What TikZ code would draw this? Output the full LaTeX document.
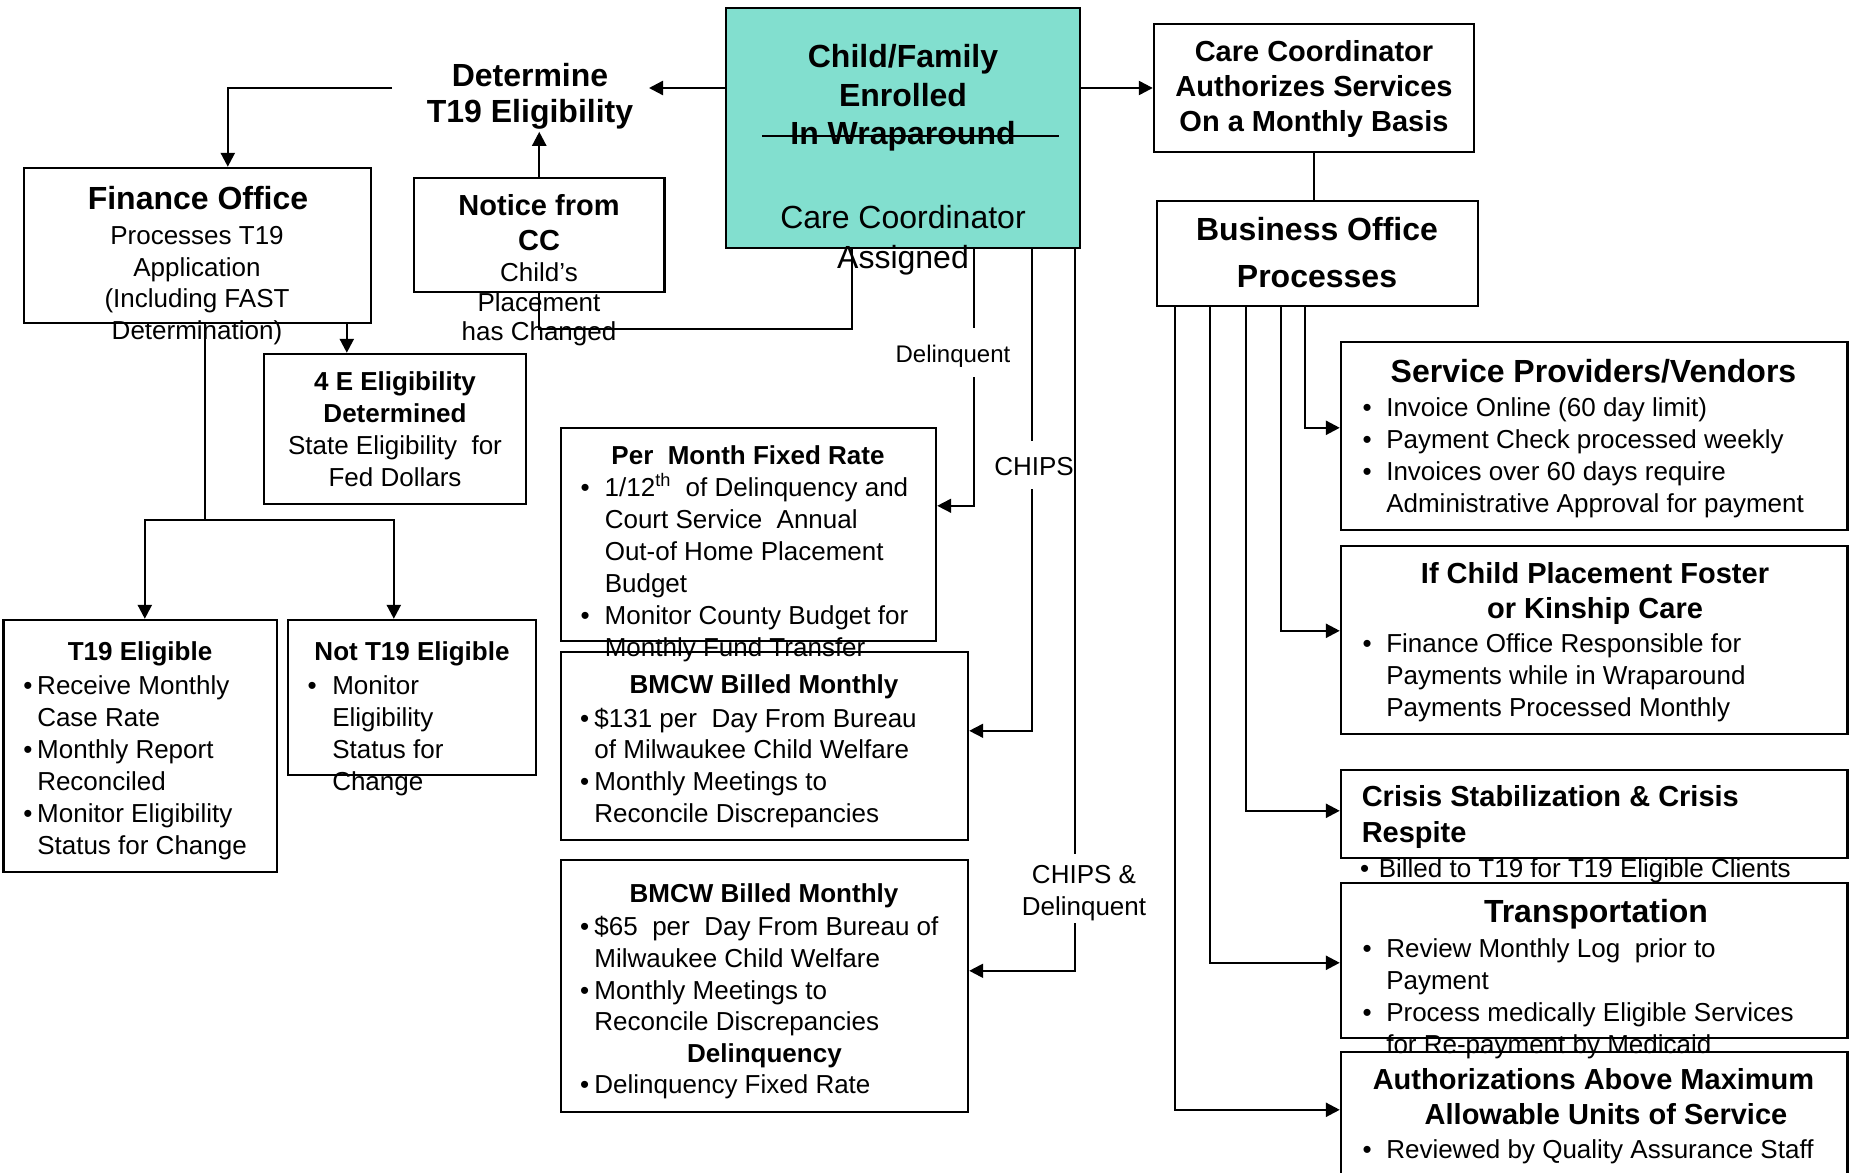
\documentclass[tikz,border=0pt]{standalone}
\usepackage{fontspec}
\setmainfont{Liberation Sans}
\usetikzlibrary{arrows.meta,calc,fit}
\definecolor{tealfill}{RGB}{130,223,207}
\newcommand\fsz[2]{\fontsize{#1}{#2}\selectfont}
\newcommand\bul[1]{\llap{\textbullet\hspace{#1}}}
\begin{document}
\begin{tikzpicture}[x=0.75pt,y=-0.75pt,
  box/.style={draw, line width=1.8pt, inner sep=0pt},
  conn/.style={line width=1.8pt},
  arr/.style={conn, -{Triangle[length=10.5pt,width=10.5pt]}},
  thinln/.style={line width=1.3pt},
  thinarr/.style={thinln, -{Triangle[length=10.5pt,width=10.5pt]}},
  txt/.style={inner sep=0pt, align=center, anchor=north},
  ltxt/.style={inner sep=0pt, align=left, anchor=north west},
  one/.style={inner sep=0pt, anchor=base},
  onew/.style={inner sep=0pt, anchor=base west}]
\path[use as bounding box] (0,0) rectangle (1853,1173);
\fill[white] (0,0) rectangle (1853,1173);

% ---------- boxes ----------
\node[box, fill=tealfill, fit={(726,8) (1080,248)}] (teal) {};
\node[box, fit={(1154,24) (1474,152)}] (cc) {};
\node[box, fit={(1157,201) (1478,306)}] (bus) {};
\node[box, fit={(24,168) (371,323)}] (fin) {};
\node[box, fit={(414,178) (664.5,292)}] (notice) {};
\node[box, fit={(264,354) (526,504)}] (e4) {};
\node[box, fit={(3.6,620) (277,872)}] (t19) {};
\node[box, fit={(288,620) (536,775)}] (nt19) {};
\node[box, fit={(561,428) (936,641)}] (pm) {};
\node[box, fit={(561,652) (968,840)}] (bm1) {};
\node[box, fit={(561,860) (968,1112)}] (bm2) {};
\node[box, fit={(1341,342) (1847.5,530)}] (svc) {};
\node[box, fit={(1341,546) (1847.5,734)}] (fos) {};
\node[box, fit={(1341,770) (1847.5,858)}] (cri) {};
\node[box, fit={(1341,883) (1847.5,1038)}] (tr) {};
\node[box, fit={(1341,1052) (1847.5,1195)}] (au) {};

% ---------- large texts (shifted up slightly) ----------
\begin{scope}[yshift=1.2pt]
\node[txt, font=\fsz{24pt}{27pt}\bfseries] (det) at (530,62.8) {\strut Determine\\T19 Eligibility};
\node[txt, font=\fsz{24pt}{28.9pt}\bfseries] (tealT) at (903,42) {\strut Child/Family\\Enrolled\\In Wraparound};
\node[txt, font=\fsz{24pt}{29.6pt}] (tealS) at (903,202.3) {\strut Care Coordinator\\Assigned};
\node[txt, font=\fsz{21.75pt}{26.25pt}\bfseries] (ccT) at (1314,38.4) {\strut Care Coordinator\\Authorizes Services\\On a Monthly Basis};
\node[txt, font=\fsz{24pt}{35.25pt}\bfseries] (busT) at (1317,209) {\strut Business Office\\Processes};
\node[one, font=\fsz{24pt}{28pt}\bfseries] (finT) at (198,211) {Finance Office};
\node[txt, font=\fsz{21.75pt}{26.25pt}\bfseries] (ntT) at (539,192.3) {\strut Notice from\\CC};
\node[one, font=\fsz{24pt}{28pt}\bfseries] (svcT) at (1593.5,384) {Service Providers/Vendors};
\node[txt, font=\fsz{21.75pt}{26.25pt}\bfseries] (fosT) at (1595,560.3) {\strut If Child Placement Foster\\or Kinship Care};
\node[ltxt, font=\fsz{21.75pt}{27.6pt}\bfseries] (criT) at (1361.5,781.7) {\strut Crisis Stabilization \& Crisis\\Respite};
\node[one, font=\fsz{24pt}{28pt}\bfseries] (trT) at (1596,924) {Transportation};
\node[one, font=\fsz{21.75pt}{26pt}\bfseries] (auT1) at (1593.5,1091.5) {Authorizations Above Maximum};
\node[one, font=\fsz{21.75pt}{26pt}\bfseries] (auT2) at (1606,1126.5) {Allowable Units of Service};
\end{scope}

% ---------- body texts ----------
\node[txt, font=\fsz{19.5pt}{23.8pt}] (finB) at (197,222) {\strut Processes T19\\Application\\(Including FAST\\Determination)};
\node[txt, font=\fsz{19.5pt}{22.1pt}] (ntB) at (539,261) {\strut Child’s\\Placement\\has Changed};

\node[txt, font=\fsz{19.5pt}{24pt}] (e4T) at (395,368.2) {\strut\textbf{4 E Eligibility}\\\textbf{Determined}\\State Eligibility\ \ for\\Fed Dollars};

\node[one, font=\fsz{19.5pt}{24pt}\bfseries] (t19T) at (140,660.4) {T19 Eligible};
\node[ltxt, font=\fsz{19.5pt}{24pt}] (t19B) at (37,671.9) {\strut\bul{3.6pt}Receive Monthly\\Case Rate\\\bul{3.6pt}Monthly Report\\Reconciled\\\bul{3.6pt}Monitor Eligibility\\Status for Change};

\node[one, font=\fsz{19.5pt}{24pt}\bfseries] (nt19T) at (412,660.4) {Not T19 Eligible};
\node[ltxt, font=\fsz{19.5pt}{24pt}] (nt19B) at (332,671.9) {\strut\bul{11.7pt}Monitor\\Eligibility\\Status for\\Change};

\node[one, font=\fsz{19.5pt}{24pt}\bfseries] (pmT) at (748,464.8) {Per\ \ Month Fixed Rate};
\node[ltxt, font=\fsz{19.5pt}{24pt}] (pmB) at (604.5,473.5) {\strut\bul{11.25pt}1/12\textsuperscript{th}\ \ of Delinquency and\\Court Service\ \ Annual\\Out-of Home Placement\\Budget\\\bul{11.25pt}Monitor County Budget for\\Monthly Fund Transfer};

\node[one, font=\fsz{19.5pt}{24pt}\bfseries] (bm1T) at (764,693.6) {BMCW Billed Monthly};
\node[ltxt, font=\fsz{19.5pt}{23.8pt}] (bm1B) at (594.2,704.7) {\strut\bul{4pt}\$131 per\ \ Day From Bureau\\of Milwaukee Child Welfare\\\bul{4pt}Monthly Meetings to\\Reconcile Discrepancies};

\node[one, font=\fsz{19.5pt}{24pt}\bfseries] (bm2T) at (764,902) {BMCW Billed Monthly};
\node[ltxt, font=\fsz{19.5pt}{23.8pt}] (bm2B) at (594.2,913.1) {\strut\bul{4pt}\$65\ \ per\ \ Day From Bureau of\\Milwaukee Child Welfare\\\bul{4pt}Monthly Meetings to\\Reconcile Discrepancies};
\node[one, font=\fsz{19.5pt}{24pt}\bfseries] (delT) at (764.4,1062) {Delinquency};
\node[onew, font=\fsz{19.5pt}{24pt}] (delB) at (594.2,1093.6) {\bul{4pt}Delinquency Fixed Rate};

\node[ltxt, font=\fsz{19.5pt}{24pt}] (svcB) at (1386,393.6) {\strut\bul{11pt}Invoice Online (60 day limit)\\\bul{11pt}Payment Check processed weekly\\\bul{11pt}Invoices over 60 days require\\Administrative Approval for payment};
\node[ltxt, font=\fsz{19.5pt}{24pt}] (fosB) at (1386,629.6) {\strut\bul{11pt}Finance Office Responsible for\\Payments while in Wraparound\\Payments Processed Monthly};
\node[onew, font=\fsz{19.5pt}{24pt}] (criB) at (1378.5,877) {\bul{7.2pt}Billed to T19 for T19 Eligible Clients};
\node[ltxt, font=\fsz{19.5pt}{24.15pt}] (trB) at (1386,934.5) {\strut\bul{11pt}Review Monthly Log\ \ prior to\\Payment\\\bul{11pt}Process medically Eligible Services\\for Re-payment by Medicaid};
\node[onew, font=\fsz{19.5pt}{24pt}] (auB) at (1386,1158) {\bul{11pt}Reviewed by Quality Assurance Staff};

% connector labels
\node[one, font=\fsz{18pt}{22pt}] (lblDel) at (953,362.5) {Delinquent};
\node[one, font=\fsz{19.5pt}{24pt}] (lblChips) at (1034,475.3) {CHIPS};
\node[txt, font=\fsz{19.5pt}{23.8pt}] (lblCD) at (1084,861.4) {\strut CHIPS \&\\Delinquent};

% strike line through "In Wraparound"
\draw[line width=1.5pt] (762,136) -- (1059,136);

% ---------- connectors ----------
\coordinate (detR) at (649,88);
\coordinate (detL) at (392,88);
\draw[arr] (detR -| teal.west) -- (detR);
\draw[arr] (detL) -| ($(fin.north west)+(205,0)$);
\draw[arr] (notice.north) -- ++(0,-45);
\draw[conn] ($(teal.south west)+(127,0)$) -- ++(0,80) -| (notice.south);
\draw[arr] ($(fin.south west)+(324,0)$) coordinate (f4) -- (f4 |- e4.north);
\coordinate (split) at (205,520);
\draw[conn] (fin.south -| split) -- (split);
\draw[arr] (split) -| ($(t19.north west)+(142.4,0)$);
\draw[arr] (split) -| ($(nt19.north west)+(107,0)$);

\draw[arr] (teal.east |- cc.west) -- (cc.west);
\draw[conn] (cc.south) -- (cc.south |- bus.north);

\draw[arr] ($(bus.south west)+(19,0)$) |- ($(au.north west)+(0,59)$);
\draw[arr] ($(bus.south west)+(54,0)$) |- ($(tr.north west)+(0,81)$);
\draw[arr] ($(bus.south west)+(90,0)$) |- ($(cri.north west)+(0,42)$);
\draw[arr] ($(bus.south west)+(125,0)$) |- ($(fos.north west)+(0,86)$);
\draw[arr] ($(bus.south west)+(149,0)$) |- ($(svc.north west)+(0,87)$);

\coordinate (dA) at ($(teal.south west)+(249,0)$);
\coordinate (cA) at ($(teal.south west)+(307,0)$);
\coordinate (kA) at ($(teal.south west)+(350,0)$);
\draw[thinln] (dA) -- ++(0,79);
\draw[thinarr] ($(dA)+(0,128)$) |- ($(pm.north east)+(0,79)$);
\draw[thinln] (cA) -- ++(0,192);
\draw[thinarr] ($(cA)+(0,240)$) |- ($(bm1.north east)+(0,80)$);
\draw[line width=1.6pt] (kA) -- ++(0,605);
\draw[line width=1.6pt, -{Triangle[length=10.5pt,width=10.5pt]}] ($(kA)+(0,674)$) |- ($(bm2.north east)+(0,112)$);
\end{tikzpicture}
\end{document}
